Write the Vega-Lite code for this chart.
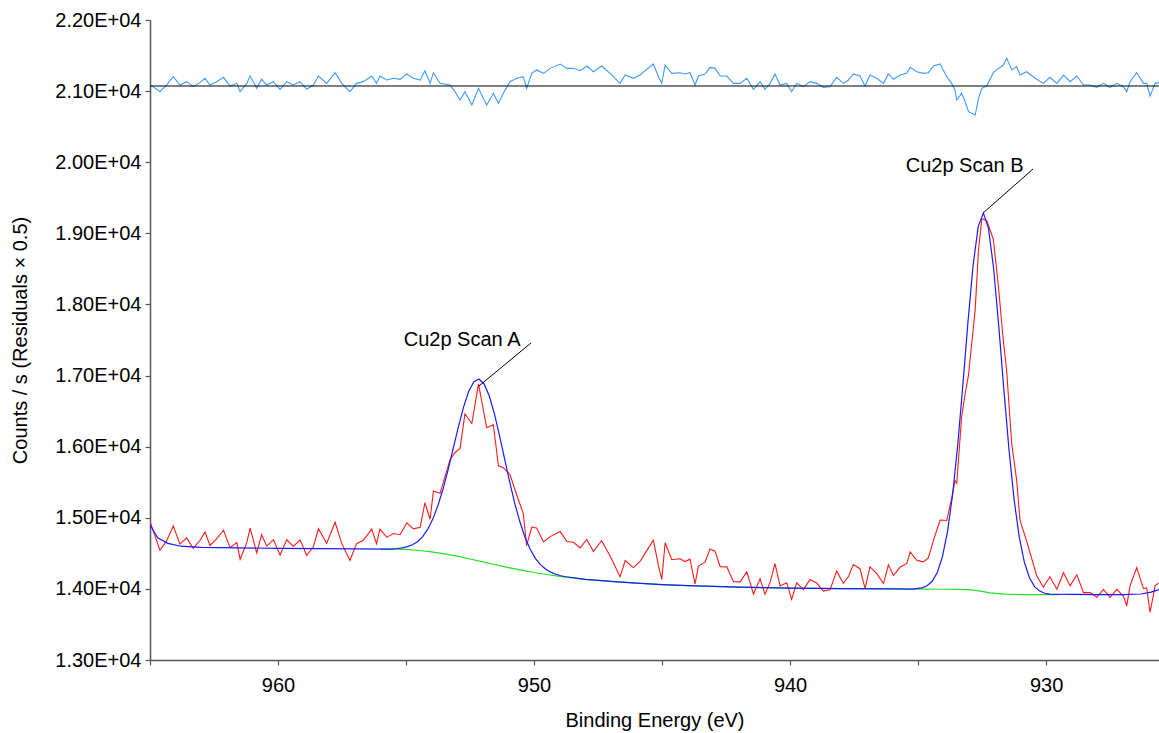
{
  "$schema": "https://vega.github.io/schema/vega-lite/v6.json",
  "width": 1009,
  "height": 640,
  "autosize": {"type": "none"},
  "padding": {"left": 150, "top": 20, "right": 0, "bottom": 73},
  "background": "white",
  "config": {
    "view": {"stroke": null},
    "axis": {
      "labelFont": "Liberation Sans",
      "titleFont": "Liberation Sans",
      "labelFontSize": 20,
      "titleFontSize": 20,
      "titleFontWeight": "normal",
      "labelColor": "#000000",
      "titleColor": "#000000",
      "domainColor": "#555555",
      "domainWidth": 1.5,
      "tickColor": "#555555",
      "tickWidth": 1.2,
      "grid": false,
      "labelFlush": false,
      "labelOverlap": false
    }
  },
  "datasets": {
    "red": [
      {"e":965.0,"c":14946},{"e":964.61,"c":14542},{"e":964.35,"c":14678},{"e":964.09,"c":14885},{"e":963.83,"c":14630},{"e":963.57,"c":14718},{"e":963.31,"c":14572},{"e":963.05,"c":14680},{"e":962.85,"c":14800},{"e":962.66,"c":14611},{"e":962.40,"c":14704},{"e":962.13,"c":14825},{"e":961.87,"c":14579},{"e":961.61,"c":14652},{"e":961.48,"c":14417},{"e":961.22,"c":14650},{"e":961.09,"c":14855},{"e":960.83,"c":14508},{"e":960.64,"c":14762},{"e":960.44,"c":14601},{"e":960.18,"c":14693},{"e":959.92,"c":14476},{"e":959.66,"c":14691},{"e":959.40,"c":14596},{"e":959.14,"c":14689},{"e":958.88,"c":14472},{"e":958.62,"c":14593},{"e":958.42,"c":14845},{"e":958.10,"c":14638},{"e":957.77,"c":14937},{"e":957.51,"c":14636},{"e":957.19,"c":14402},{"e":956.93,"c":14636},{"e":956.67,"c":14684},{"e":956.34,"c":14841},{"e":956.15,"c":14635},{"e":956.02,"c":14841},{"e":955.75,"c":14728},{"e":955.49,"c":14779},{"e":955.23,"c":14762},{"e":954.97,"c":14930},{"e":954.71,"c":14845},{"e":954.45,"c":14867},{"e":954.26,"c":15212},{"e":954.06,"c":14979},{"e":953.93,"c":15378},{"e":953.67,"c":15343},{"e":953.28,"c":15817},{"e":953.09,"c":15915},{"e":952.89,"c":15974},{"e":952.70,"c":16459},{"e":952.43,"c":16326},{"e":952.17,"c":16884},{"e":951.85,"c":16266},{"e":951.59,"c":16308},{"e":951.39,"c":15731},{"e":951.20,"c":15704},{"e":950.94,"c":15607},{"e":950.68,"c":15324},{"e":950.42,"c":15060},{"e":950.29,"c":14607},{"e":950.09,"c":14870},{"e":949.90,"c":14857},{"e":949.63,"c":14660},{"e":949.37,"c":14735},{"e":948.98,"c":14806},{"e":948.72,"c":14666},{"e":948.46,"c":14656},{"e":948.20,"c":14576},{"e":947.94,"c":14695},{"e":947.68,"c":14527},{"e":947.36,"c":14678},{"e":947.03,"c":14462},{"e":946.64,"c":14170},{"e":946.44,"c":14399},{"e":946.12,"c":14299},{"e":945.86,"c":14385},{"e":945.66,"c":14503},{"e":945.34,"c":14685},{"e":945.14,"c":14325},{"e":945.01,"c":14134},{"e":944.88,"c":14648},{"e":944.62,"c":14410},{"e":944.30,"c":14424},{"e":944.10,"c":14385},{"e":943.91,"c":14418},{"e":943.71,"c":14070},{"e":943.58,"c":14321},{"e":943.32,"c":14376},{"e":943.13,"c":14560},{"e":942.93,"c":14530},{"e":942.73,"c":14312},{"e":942.47,"c":14310},{"e":942.21,"c":14101},{"e":941.95,"c":14099},{"e":941.69,"c":14239},{"e":941.43,"c":13927},{"e":941.17,"c":14141},{"e":940.98,"c":13924},{"e":940.78,"c":14091},{"e":940.59,"c":14354},{"e":940.39,"c":14042},{"e":940.13,"c":14087},{"e":939.94,"c":13852},{"e":939.74,"c":14085},{"e":939.48,"c":13990},{"e":939.22,"c":14131},{"e":938.96,"c":14082},{"e":938.70,"c":13969},{"e":938.44,"c":13987},{"e":938.18,"c":14250},{"e":937.92,"c":14079},{"e":937.72,"c":14173},{"e":937.53,"c":14342},{"e":937.27,"c":14284},{"e":937.07,"c":14003},{"e":936.88,"c":14311},{"e":936.62,"c":14218},{"e":936.35,"c":14075},{"e":936.16,"c":14338},{"e":935.96,"c":14188},{"e":935.70,"c":14307},{"e":935.44,"c":14354},{"e":935.31,"c":14521},{"e":935.05,"c":14402},{"e":934.79,"c":14380},{"e":934.60,"c":14434},{"e":934.40,"c":14682},{"e":934.14,"c":14968},{"e":933.88,"c":14962},{"e":933.69,"c":15274},{"e":933.56,"c":15526},{"e":933.49,"c":15486},{"e":933.30,"c":16414},{"e":933.16,"c":16748},{"e":933.03,"c":17008},{"e":932.77,"c":17924},{"e":932.64,"c":18762},{"e":932.51,"c":19204},{"e":932.32,"c":19180},{"e":932.06,"c":18914},{"e":931.86,"c":18246},{"e":931.67,"c":17490},{"e":931.54,"c":17068},{"e":931.34,"c":16030},{"e":931.15,"c":15534},{"e":931.02,"c":14968},{"e":930.76,"c":14672},{"e":930.37,"c":14188},{"e":930.11,"c":14024},{"e":929.85,"c":14170},{"e":929.58,"c":13994},{"e":929.32,"c":14228},{"e":929.06,"c":14042},{"e":928.80,"c":14200},{"e":928.54,"c":13948},{"e":928.28,"c":13948},{"e":928.02,"c":13882},{"e":927.76,"c":13994},{"e":927.50,"c":13882},{"e":927.24,"c":13994},{"e":926.98,"c":13900},{"e":926.85,"c":13760},{"e":926.72,"c":14044},{"e":926.46,"c":14299},{"e":926.20,"c":14006},{"e":926.07,"c":14014},{"e":925.94,"c":13668},{"e":925.74,"c":14046},{"e":925.59,"c":14084}
    ],
    "blue": [
      {"e":965.0,"c":14900},{"e":964.7,"c":14720},{"e":964.3,"c":14640},{"e":963.8,"c":14600},{"e":963.0,"c":14585},{"e":960.0,"c":14570},{"e":957.0,"c":14562},{"e":955.6,"c":14560},{"e":955.35,"c":14568},{"e":955.15,"c":14578},{"e":954.95,"c":14594},{"e":954.75,"c":14620},{"e":954.55,"c":14664},{"e":954.35,"c":14734},{"e":954.15,"c":14840},{"e":953.95,"c":14985},{"e":953.75,"c":15176},{"e":953.55,"c":15409},{"e":953.35,"c":15684},{"e":953.15,"c":15985},{"e":952.95,"c":16286},{"e":952.75,"c":16560},{"e":952.55,"c":16779},{"e":952.35,"c":16914},{"e":952.15,"c":16952},{"e":951.95,"c":16882},{"e":951.75,"c":16715},{"e":951.55,"c":16464},{"e":951.35,"c":16158},{"e":951.15,"c":15828},{"e":950.95,"c":15500},{"e":950.75,"c":15199},{"e":950.55,"c":14940},{"e":950.35,"c":14723},{"e":950.15,"c":14556},{"e":949.95,"c":14429},{"e":949.75,"c":14341},{"e":949.55,"c":14279},{"e":949.35,"c":14235},{"e":949.15,"c":14206},{"e":948.95,"c":14185},{"e":948.75,"c":14171},{"e":948.0,"c":14135},{"e":947.0,"c":14105},{"e":946.0,"c":14080},{"e":945.0,"c":14060},{"e":944.0,"c":14045},{"e":943.0,"c":14035},{"e":942.0,"c":14025},{"e":941.0,"c":14018},{"e":940.0,"c":14012},{"e":938.0,"c":14005},{"e":936.0,"c":14000},{"e":935.2,"c":13996},{"e":934.85,"c":14015},{"e":934.65,"c":14045},{"e":934.45,"c":14107},{"e":934.25,"c":14231},{"e":934.05,"c":14450},{"e":933.85,"c":14804},{"e":933.65,"c":15328},{"e":933.45,"c":16031},{"e":933.25,"c":16871},{"e":933.05,"c":17759},{"e":932.85,"c":18554},{"e":932.65,"c":19098},{"e":932.45,"c":19287},{"e":932.25,"c":19070},{"e":932.05,"c":18508},{"e":931.85,"c":17701},{"e":931.65,"c":16806},{"e":931.45,"c":15962},{"e":931.25,"c":15257},{"e":931.05,"c":14732},{"e":930.85,"c":14376},{"e":930.65,"c":14157},{"e":930.45,"c":14032},{"e":930.25,"c":13969},{"e":930.05,"c":13939},{"e":929.85,"c":13926},{"e":928.0,"c":13920},{"e":927.0,"c":13920},{"e":926.3,"c":13928},{"e":925.9,"c":13955},{"e":925.59,"c":13990}
    ],
    "green": [
      {"e":956,"c":14560},{"e":955,"c":14555},{"e":954.5,"c":14540},{"e":954,"c":14520},{"e":953.5,"c":14492},{"e":953,"c":14460},{"e":952.5,"c":14420},{"e":952,"c":14380},{"e":951.5,"c":14340},{"e":951,"c":14300},{"e":950.5,"c":14265},{"e":950,"c":14230},{"e":949.5,"c":14202},{"e":949,"c":14175},{"e":948,"c":14135},{"e":947,"c":14105},{"e":946,"c":14080},{"e":945,"c":14060},{"e":944,"c":14045},{"e":943,"c":14035},{"e":942,"c":14025},{"e":941,"c":14018},{"e":940,"c":14012},{"e":938,"c":14005},{"e":936,"c":14000},{"e":934,"c":13995},{"e":933.4,"c":13992},{"e":932.9,"c":13985},{"e":932.5,"c":13965},{"e":932.2,"c":13945},{"e":931.6,"c":13925},{"e":931,"c":13920},{"e":930,"c":13918},{"e":929.5,"c":13918}
    ],
    "resid": [
      {"e":965.0,"c":21095},{"e":964.61,"c":20992},{"e":964.35,"c":21086},{"e":964.09,"c":21203},{"e":963.83,"c":21086},{"e":963.57,"c":21133},{"e":963.31,"c":21062},{"e":963.05,"c":21119},{"e":962.85,"c":21180},{"e":962.66,"c":21086},{"e":962.40,"c":21133},{"e":962.13,"c":21194},{"e":961.87,"c":21072},{"e":961.61,"c":21109},{"e":961.48,"c":20992},{"e":961.22,"c":21109},{"e":961.09,"c":21212},{"e":960.83,"c":21039},{"e":960.64,"c":21166},{"e":960.44,"c":21086},{"e":960.18,"c":21133},{"e":959.92,"c":21025},{"e":959.66,"c":21133},{"e":959.40,"c":21086},{"e":959.14,"c":21133},{"e":958.88,"c":21025},{"e":958.62,"c":21086},{"e":958.42,"c":21212},{"e":958.10,"c":21109},{"e":957.77,"c":21259},{"e":957.51,"c":21109},{"e":957.19,"c":20992},{"e":956.93,"c":21109},{"e":956.67,"c":21133},{"e":956.34,"c":21212},{"e":956.15,"c":21109},{"e":956.02,"c":21212},{"e":955.75,"c":21156},{"e":955.49,"c":21180},{"e":955.23,"c":21166},{"e":954.97,"c":21241},{"e":954.71,"c":21180},{"e":954.45,"c":21156},{"e":954.26,"c":21287},{"e":954.06,"c":21109},{"e":953.93,"c":21259},{"e":953.67,"c":21109},{"e":953.28,"c":21086},{"e":953.09,"c":20992},{"e":952.89,"c":20875},{"e":952.70,"c":20992},{"e":952.43,"c":20805},{"e":952.17,"c":21039},{"e":951.85,"c":20805},{"e":951.59,"c":20969},{"e":951.39,"c":20828},{"e":951.20,"c":20969},{"e":950.94,"c":21133},{"e":950.68,"c":21180},{"e":950.42,"c":21203},{"e":950.29,"c":21039},{"e":950.09,"c":21250},{"e":949.90,"c":21297},{"e":949.63,"c":21250},{"e":949.37,"c":21320},{"e":948.98,"c":21381},{"e":948.72,"c":21320},{"e":948.46,"c":21320},{"e":948.20,"c":21287},{"e":947.94,"c":21353},{"e":947.68,"c":21273},{"e":947.36,"c":21353},{"e":947.03,"c":21250},{"e":946.64,"c":21109},{"e":946.44,"c":21226},{"e":946.12,"c":21180},{"e":945.86,"c":21226},{"e":945.66,"c":21287},{"e":945.34,"c":21381},{"e":945.14,"c":21203},{"e":945.01,"c":21109},{"e":944.88,"c":21367},{"e":944.62,"c":21250},{"e":944.30,"c":21259},{"e":944.10,"c":21241},{"e":943.91,"c":21259},{"e":943.71,"c":21086},{"e":943.58,"c":21212},{"e":943.32,"c":21241},{"e":943.13,"c":21334},{"e":942.93,"c":21320},{"e":942.73,"c":21212},{"e":942.47,"c":21212},{"e":942.21,"c":21109},{"e":941.95,"c":21109},{"e":941.69,"c":21180},{"e":941.43,"c":21025},{"e":941.17,"c":21133},{"e":940.98,"c":21025},{"e":940.78,"c":21109},{"e":940.59,"c":21241},{"e":940.39,"c":21086},{"e":940.13,"c":21109},{"e":939.94,"c":20992},{"e":939.74,"c":21109},{"e":939.48,"c":21062},{"e":939.22,"c":21133},{"e":938.96,"c":21109},{"e":938.70,"c":21053},{"e":938.44,"c":21062},{"e":938.18,"c":21194},{"e":937.92,"c":21109},{"e":937.72,"c":21156},{"e":937.53,"c":21241},{"e":937.27,"c":21212},{"e":937.07,"c":21072},{"e":936.88,"c":21226},{"e":936.62,"c":21180},{"e":936.35,"c":21109},{"e":936.16,"c":21241},{"e":935.96,"c":21166},{"e":935.70,"c":21226},{"e":935.44,"c":21250},{"e":935.31,"c":21334},{"e":935.05,"c":21273},{"e":934.79,"c":21250},{"e":934.60,"c":21259},{"e":934.40,"c":21353},{"e":934.14,"c":21381},{"e":933.88,"c":21203},{"e":933.69,"c":21109},{"e":933.56,"c":21015},{"e":933.49,"c":20875},{"e":933.30,"c":20969},{"e":933.16,"c":20851},{"e":933.03,"c":20711},{"e":932.77,"c":20664},{"e":932.64,"c":20898},{"e":932.51,"c":21039},{"e":932.32,"c":21072},{"e":932.06,"c":21259},{"e":931.86,"c":21320},{"e":931.67,"c":21367},{"e":931.54,"c":21461},{"e":931.34,"c":21297},{"e":931.15,"c":21344},{"e":931.02,"c":21226},{"e":930.76,"c":21273},{"e":930.37,"c":21166},{"e":930.11,"c":21109},{"e":929.85,"c":21194},{"e":929.58,"c":21109},{"e":929.32,"c":21226},{"e":929.06,"c":21133},{"e":928.80,"c":21212},{"e":928.54,"c":21086},{"e":928.28,"c":21086},{"e":928.02,"c":21053},{"e":927.76,"c":21109},{"e":927.50,"c":21053},{"e":927.24,"c":21109},{"e":926.98,"c":21062},{"e":926.85,"c":20992},{"e":926.72,"c":21133},{"e":926.46,"c":21259},{"e":926.20,"c":21109},{"e":926.07,"c":21109},{"e":925.94,"c":20931},{"e":925.74,"c":21109},{"e":925.59,"c":21119}
    ],
    "zero": [{"c": 21072}],
    "leaders": [
      {"e1": 952.15, "c1": 16853, "e2": 950.12, "c2": 17458},
      {"e1": 932.46, "c1": 19286, "e2": 930.51, "c2": 19905}
    ],
    "labels": [
      {"e": 952.81, "c": 17416, "t": "Cu2p Scan A"},
      {"e": 933.18, "c": 19862, "t": "Cu2p Scan B"}
    ]
  },
  "layer": [
    {
      "data": {"name": "green"},
      "mark": {"type": "line", "color": "#22e022", "strokeWidth": 1.2, "clip": true},
      "encoding": {
        "x": {
          "field": "e", "type": "quantitative",
          "scale": {"domain": [925.59, 965], "reverse": true, "nice": false, "zero": false},
          "axis": {
            "title": "Binding Energy (eV)",
            "values": [965, 960, 955, 950, 945, 940, 935, 930],
            "labelExpr": "datum.value % 10 == 0 ? format(datum.value, 'd') : ''",
            "tickSize": 5,
            "labelPadding": 10,
            "titleY": 60,
            "titleBaseline": "middle"
          }
        },
        "y": {
          "field": "c", "type": "quantitative",
          "scale": {"domain": [13000, 22000], "nice": false, "zero": false},
          "axis": {
            "title": "Counts / s  (Residuals × 0.5)",
            "values": [13000, 13500, 14000, 14500, 15000, 15500, 16000, 16500, 17000, 17500, 18000, 18500, 19000, 19500, 20000, 20500, 21000, 21500, 22000],
            "labelExpr": "datum.value % 1000 == 0 ? replace(format(datum.value, '.2e'), 'e+4', 'E+04') : ''",
            "tickSize": 5,
            "labelPadding": 4,
            "titleX": -130,
            "titleY": 320,
            "titleAngle": -90,
            "titleAlign": "center",
            "titleBaseline": "middle"
          }
        }
      }
    },
    {
      "data": {"name": "red"},
      "mark": {"type": "line", "color": "#ff1a1a", "strokeWidth": 1.1, "clip": true},
      "encoding": {
        "x": {"field": "e", "type": "quantitative"},
        "y": {"field": "c", "type": "quantitative"}
      }
    },
    {
      "data": {"name": "blue"},
      "mark": {"type": "line", "color": "#1a1aff", "strokeWidth": 1.2, "clip": true},
      "encoding": {
        "x": {"field": "e", "type": "quantitative"},
        "y": {"field": "c", "type": "quantitative"}
      }
    },
    {
      "data": {"name": "resid"},
      "mark": {"type": "line", "color": "#3d9bff", "strokeWidth": 1.1, "clip": true},
      "encoding": {
        "x": {"field": "e", "type": "quantitative"},
        "y": {"field": "c", "type": "quantitative"}
      }
    },
    {
      "data": {"name": "zero"},
      "mark": {"type": "rule", "color": "#000000", "strokeWidth": 1},
      "encoding": {
        "y": {"field": "c", "type": "quantitative"}
      }
    },
    {
      "data": {"name": "leaders"},
      "mark": {"type": "rule", "color": "#000000", "strokeWidth": 1},
      "encoding": {
        "x": {"field": "e1", "type": "quantitative"},
        "y": {"field": "c1", "type": "quantitative"},
        "x2": {"field": "e2"},
        "y2": {"field": "c2"}
      }
    },
    {
      "data": {"name": "labels"},
      "mark": {"type": "text", "font": "Liberation Sans", "fontSize": 20, "align": "center", "baseline": "alphabetic", "color": "#000000"},
      "encoding": {
        "x": {"field": "e", "type": "quantitative"},
        "y": {"field": "c", "type": "quantitative"},
        "text": {"field": "t"}
      }
    }
  ]
}
